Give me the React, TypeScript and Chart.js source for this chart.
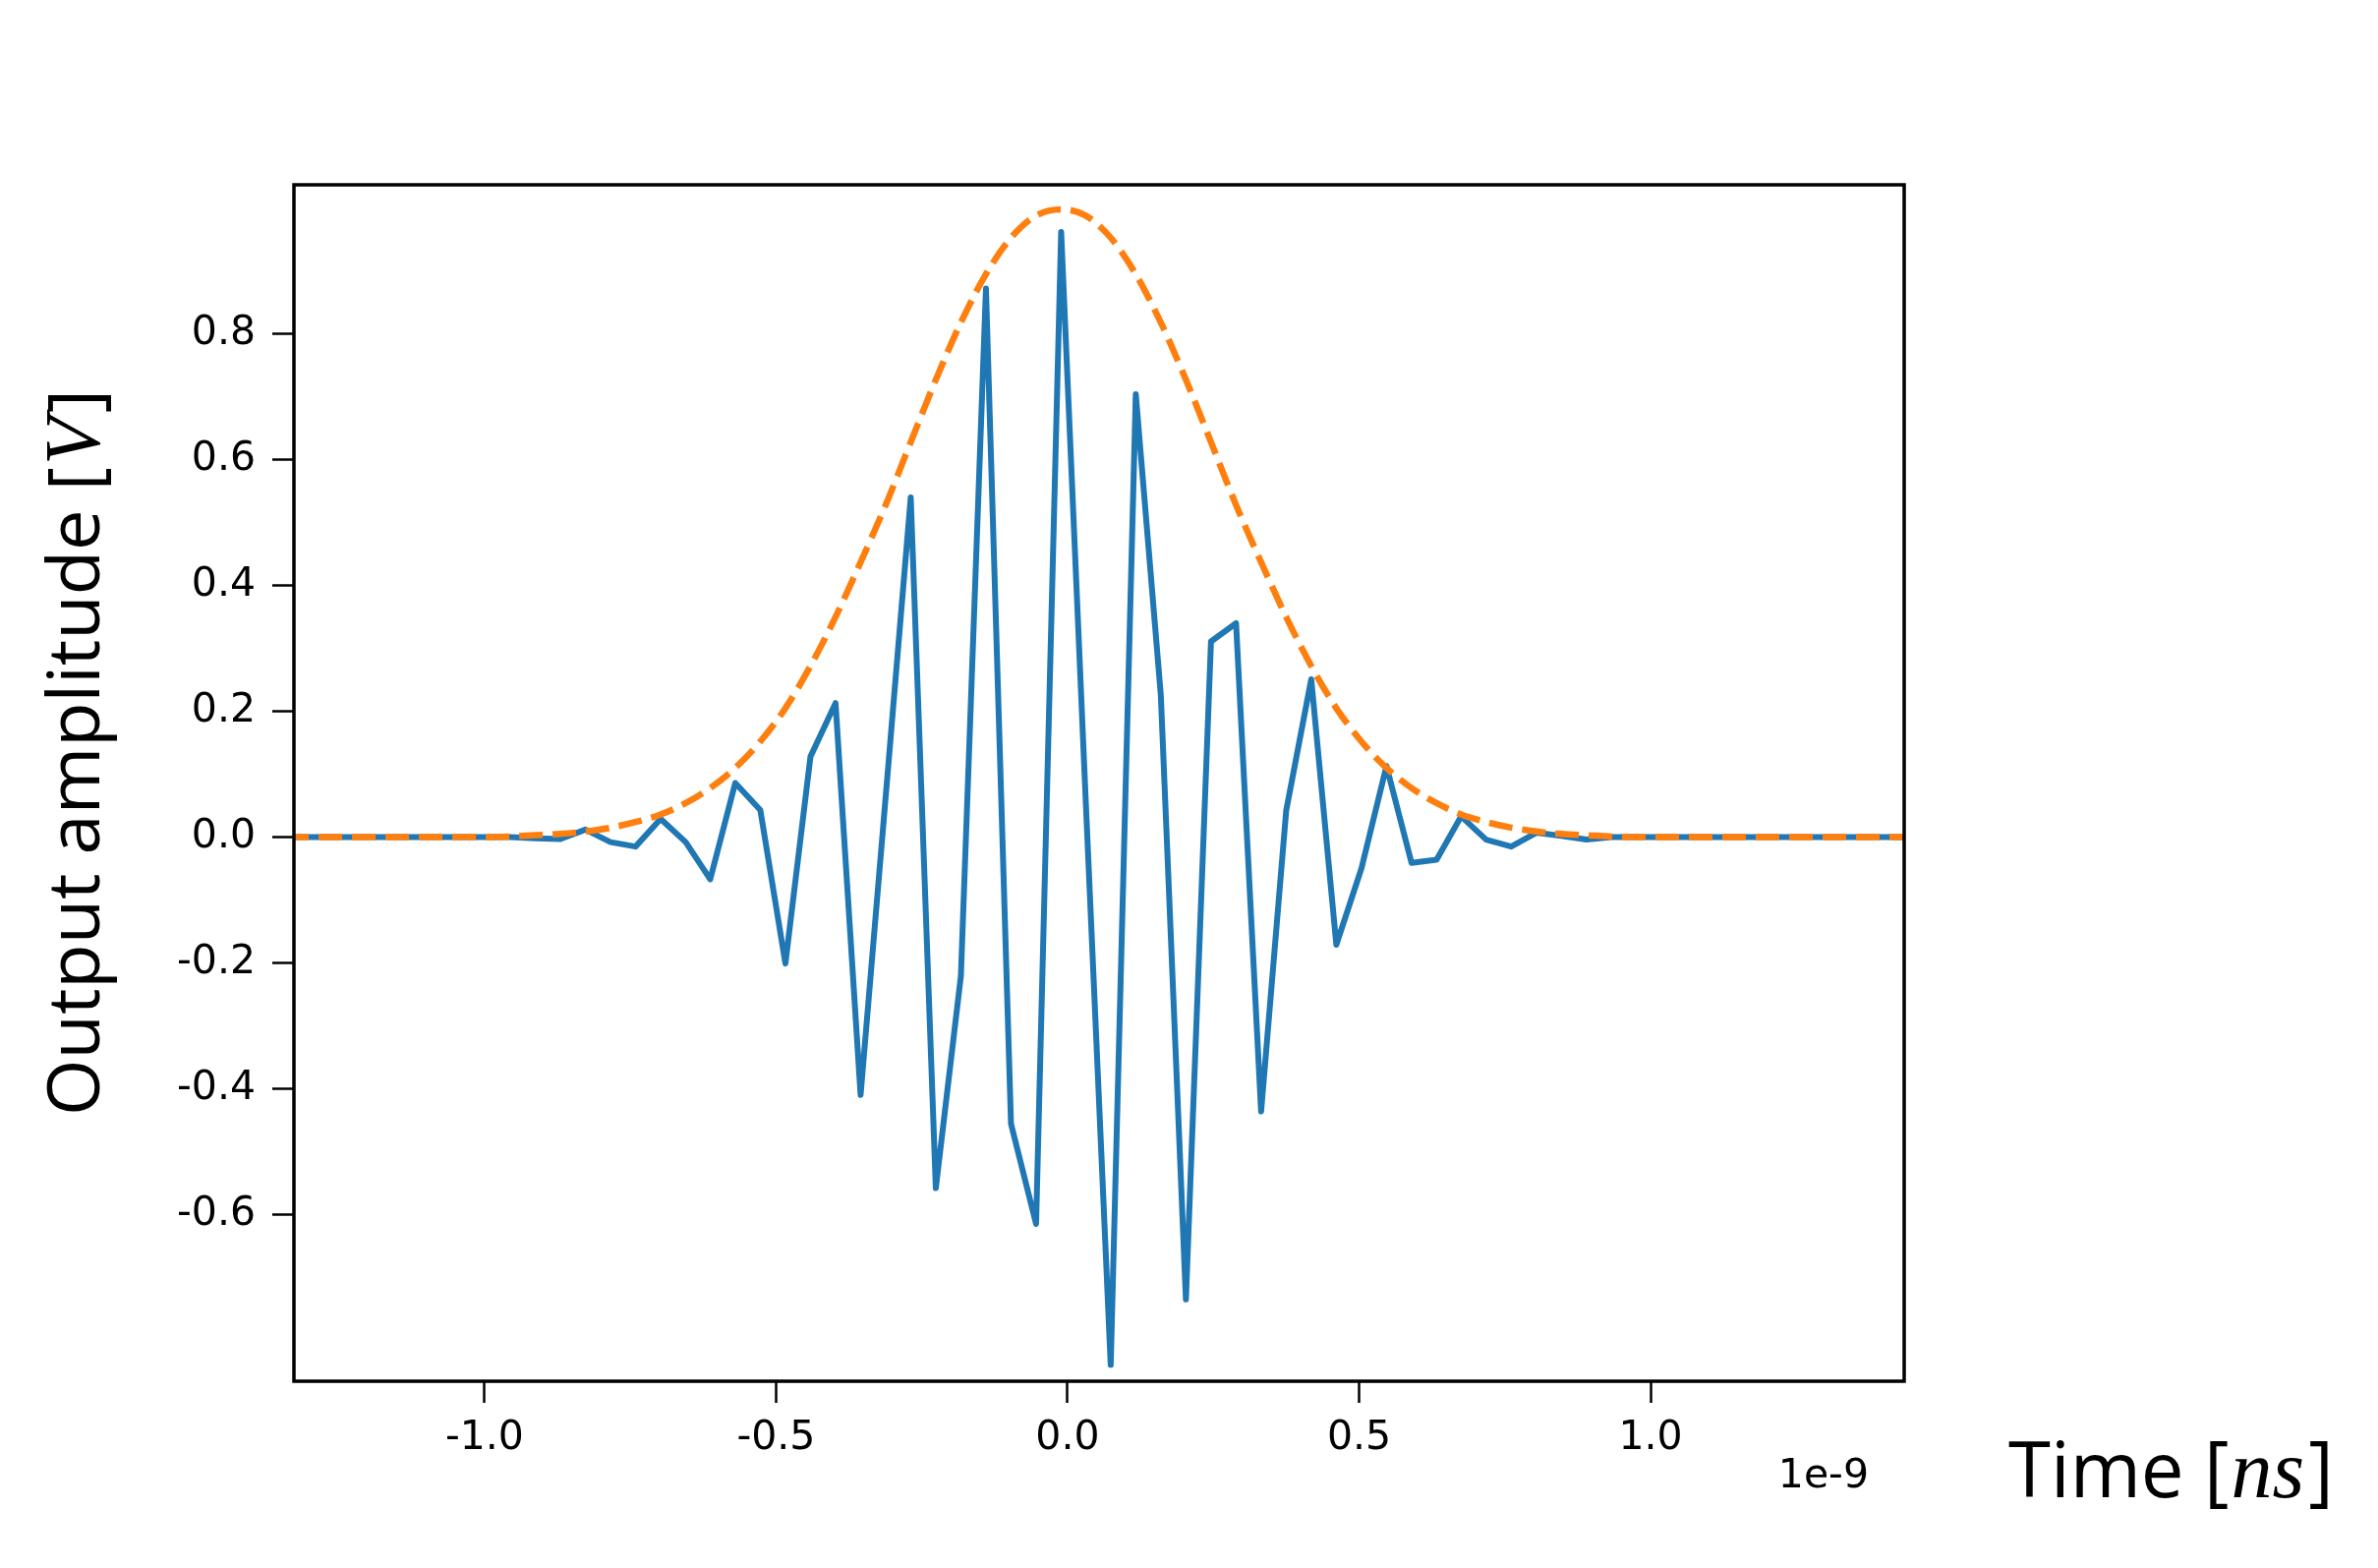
import React, { useEffect, useRef } from 'react';
import { Chart, registerables } from 'chart.js';

Chart.register(...registerables);

// Sample times in units of 1e-9 s (ns)
const TIME_NS = [
  -1.342, -1.299, -1.257, -1.214, -1.171, -1.128, -1.085, -1.042, -0.999, -0.956,
  -0.913, -0.870, -0.827, -0.784, -0.741, -0.698, -0.655, -0.613, -0.570, -0.527,
  -0.484, -0.441, -0.398, -0.355, -0.312, -0.269, -0.226, -0.183, -0.140, -0.097,
  -0.054, -0.011, 0.031, 0.074, 0.117, 0.160, 0.203, 0.246, 0.289, 0.332,
  0.375, 0.418, 0.461, 0.504, 0.547, 0.590, 0.633, 0.675, 0.718, 0.761,
  0.804, 0.847, 0.890, 0.933, 0.976, 1.019, 1.062, 1.105, 1.148, 1.191,
  1.234, 1.276, 1.319, 1.362, 1.405, 1.448,
];

// Output signal [V]
const OUTPUT_V = [
  0, 0, 0, 0, 0, 0, 0, 0, 0, 0,
  -0.002, -0.003, 0.012, -0.008, -0.015, 0.029, -0.008, -0.067, 0.086, 0.043,
  -0.201, 0.128, 0.213, -0.410, 0.064, 0.540, -0.558, -0.221, 0.872, -0.456,
  -0.615, 0.962, 0.061, -0.839, 0.704, 0.225, -0.735, 0.311, 0.340, -0.436,
  0.042, 0.251, -0.171, -0.050, 0.113, -0.041, -0.036, 0.033, -0.004, -0.015,
  0.007, 0.002, -0.004, 0, 0, 0, 0, 0, 0, 0,
  0, 0, 0, 0, 0, 0,
];

// Envelope [V]
const ENVELOPE_V = [
  0, 0, 0, 0, 0, 0, 0, 0, 0, 0.001,
  0.003, 0.005, 0.009, 0.015, 0.024, 0.036, 0.054, 0.078, 0.110, 0.152,
  0.205, 0.272, 0.350, 0.437, 0.528, 0.628, 0.727, 0.818, 0.895, 0.953,
  0.988, 0.998, 0.988, 0.953, 0.895, 0.818, 0.727, 0.628, 0.528, 0.437,
  0.350, 0.272, 0.205, 0.152, 0.110, 0.078, 0.054, 0.036, 0.024, 0.015,
  0.009, 0.005, 0.003, 0.001, 0, 0, 0, 0, 0, 0,
  0, 0, 0, 0, 0, 0,
];

const X_TICKS = [-1.0, -0.5, 0.0, 0.5, 1.0];
const Y_TICKS = [-0.6, -0.4, -0.2, 0.0, 0.2, 0.4, 0.6, 0.8];
const X_MIN = -1.327;
const X_MAX = 1.435;
const Y_MIN = -0.865;
const Y_MAX = 1.037;

const X_TITLE = ['Time [', 'ns', ']'];
const Y_TITLE = ['Output amplitude [', 'V', ']'];
const OFFSET_TEXT = '1e-9';

const W = 2419;
const H = 1595;

const TICK_FONT_FAMILY = '"DejaVu Sans", sans-serif';

function drawMixed(
  ctx: CanvasRenderingContext2D,
  parts: string[],
  fonts: string[],
  x: number,
  y: number,
  centered: boolean
) {
  const widths = parts.map((p, i) => {
    ctx.font = fonts[i];
    return ctx.measureText(p).width;
  });
  const gaps = [2, 4, 0];
  const total = widths.reduce((a, b) => a + b, 0) + gaps[0] + gaps[1];
  let cx = centered ? x - total / 2 : x;
  parts.forEach((p, i) => {
    ctx.font = fonts[i];
    ctx.fillText(p, cx, y);
    cx += widths[i] + gaps[i];
  });
}

const decorPlugin = {
  id: 'decor',
  afterDatasetsDraw(chart: any) {
    const { ctx, chartArea: a } = chart;
    ctx.save();
    ctx.strokeStyle = '#000';
    ctx.lineWidth = 3.5;
    ctx.strokeRect(a.left, a.top, a.right - a.left, a.bottom - a.top);
    ctx.restore();
  },
  afterDraw(chart: any) {
    const { ctx, chartArea: a } = chart;
    ctx.save();
    ctx.fillStyle = '#000';
    ctx.textBaseline = 'alphabetic';
    ctx.textAlign = 'left';
    // y-axis title, rotated
    ctx.save();
    ctx.translate(101, (a.top + a.bottom) / 2 - 31);
    ctx.rotate(-Math.PI / 2);
    drawMixed(
      ctx,
      Y_TITLE,
      ['74px "Open Sans", "Noto Sans", sans-serif', 'italic 80px "Liberation Serif", serif', '74px "Open Sans", "Noto Sans", sans-serif'],
      0,
      0,
      true
    );
    ctx.restore();
    // x-axis title at the bottom right
    drawMixed(
      ctx,
      X_TITLE,
      ['78px "Open Sans", "Noto Sans", sans-serif', 'italic 84px "Liberation Serif", serif', '78px "Open Sans", "Noto Sans", sans-serif'],
      2043,
      1523,
      false
    );
    // offset text
    ctx.font = '41px ' + TICK_FONT_FAMILY;
    ctx.textAlign = 'right';
    ctx.fillText(OFFSET_TEXT, 1901, 1513);
    ctx.restore();
  },
};

export default function App() {
  const canvasRef = useRef<HTMLCanvasElement | null>(null);

  useEffect(() => {
    const canvas = canvasRef.current;
    if (!canvas) return;
    const chart = new Chart(canvas, {
      type: 'line',
      data: {
        datasets: [
          {
            label: 'envelope',
            data: TIME_NS.map((t, i) => ({ x: t, y: ENVELOPE_V[i] })),
            borderColor: '#ff7f0e',
            borderWidth: 6.5,
            borderDash: [24, 10],
            borderCapStyle: 'butt',
            cubicInterpolationMode: 'monotone',
            pointRadius: 0,
            fill: false,
            order: 0,
          },
          {
            label: 'output',
            data: TIME_NS.map((t, i) => ({ x: t, y: OUTPUT_V[i] })),
            borderColor: '#1f77b4',
            borderWidth: 6,
            borderJoinStyle: 'round',
            tension: 0,
            pointRadius: 0,
            fill: false,
            order: 1,
          },
        ],
      },
      options: {
        responsive: false,
        maintainAspectRatio: false,
        devicePixelRatio: 1,
        animation: false,
        events: [],
        layout: { padding: { left: 0, right: W - 1937, top: 188, bottom: 0 } },
        plugins: {
          legend: { display: false },
          tooltip: { enabled: false },
        },
        scales: {
          x: {
            type: 'linear',
            position: 'bottom',
            min: X_MIN,
            max: X_MAX,
            afterBuildTicks: (scale: any) => {
              scale.ticks = X_TICKS.map((value) => ({ value }));
            },
            afterFit: (scale: any) => {
              scale.height = H - 1405;
            },
            grid: {
              display: true,
              drawOnChartArea: false,
              drawTicks: true,
              tickLength: 22,
              tickWidth: 2.5,
              tickColor: '#000',
            },
            border: { display: false },
            ticks: {
              autoSkip: false,
              maxRotation: 0,
              padding: 12,
              color: '#000',
              font: { family: TICK_FONT_FAMILY, size: 41 },
              callback: (v: any) => Number(v).toFixed(1),
            },
          },
          y: {
            type: 'linear',
            min: Y_MIN,
            max: Y_MAX,
            afterBuildTicks: (scale: any) => {
              scale.ticks = Y_TICKS.map((value) => ({ value }));
            },
            afterFit: (scale: any) => {
              scale.width = 299;
            },
            grid: {
              display: true,
              drawOnChartArea: false,
              drawTicks: true,
              tickLength: 22,
              tickWidth: 2.5,
              tickColor: '#000',
            },
            border: { display: false },
            ticks: {
              autoSkip: false,
              padding: 17,
              color: '#000',
              font: { family: TICK_FONT_FAMILY, size: 41 },
              callback: (v: any) => Number(v).toFixed(1),
            },
          },
        },
      },
      plugins: [decorPlugin],
    } as any);
    return () => chart.destroy();
  }, []);

  return (
    <div style={{ position: 'absolute', left: 0, top: 0, width: W, height: H, background: '#fff' }}>
      <canvas ref={canvasRef} width={W} height={H} style={{ display: 'block', width: W, height: H }} />
    </div>
  );
}
